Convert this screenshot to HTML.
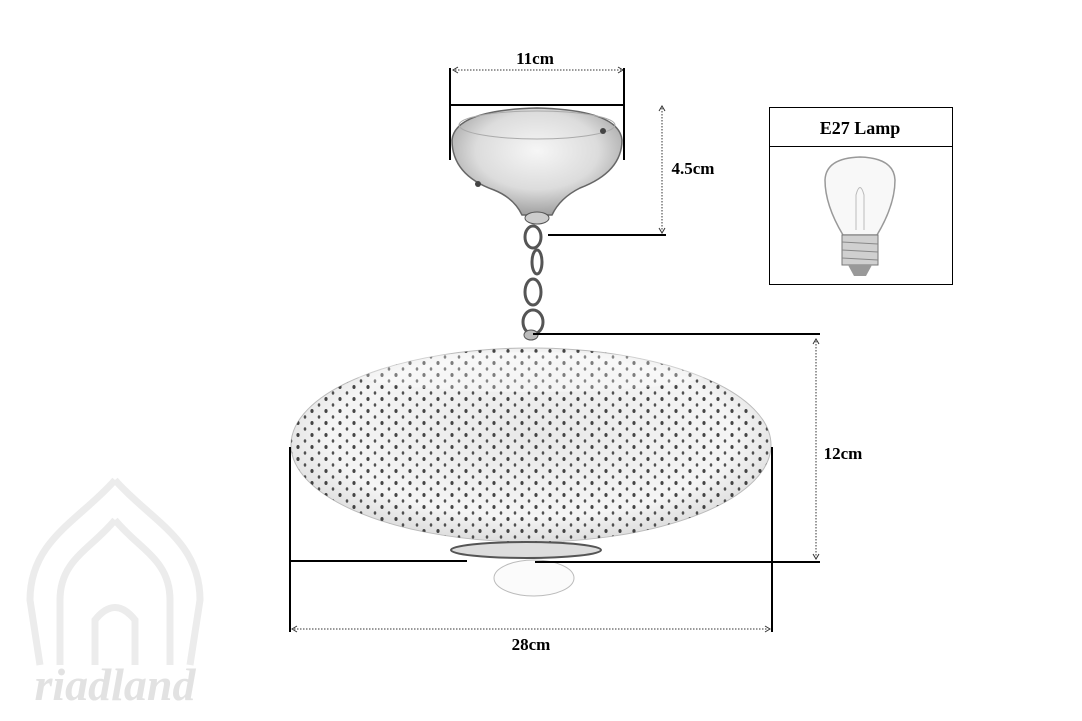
<!DOCTYPE html>
<html><head><meta charset="utf-8"><style>
html,body{margin:0;padding:0;background:#fff;}
svg{display:block}
text{font-family:"Liberation Serif",serif;font-weight:bold;}
</style></head><body>
<svg width="1082" height="721" viewBox="0 0 1082 721" xmlns="http://www.w3.org/2000/svg">
<defs>
<pattern id="dots" width="14" height="12" patternUnits="userSpaceOnUse">
<ellipse cx="4" cy="3" rx="1.6" ry="2" fill="#1a1a1a"/>
<ellipse cx="11" cy="9" rx="1.3" ry="1.7" fill="#2a2a2a"/>
</pattern>
<radialGradient id="shade" cx="50%" cy="45%" r="60%">
<stop offset="0" stop-color="#e8e8e8"/><stop offset="0.7" stop-color="#f5f5f5"/><stop offset="1" stop-color="#d5d5d5"/>
</radialGradient>
<radialGradient id="can" cx="50%" cy="40%" r="60%">
<stop offset="0" stop-color="#f6f6f6"/><stop offset="0.6" stop-color="#dcdcdc"/><stop offset="1" stop-color="#a0a0a0"/>
</radialGradient>
<clipPath id="sc"><ellipse cx="531" cy="445" rx="240" ry="97"/></clipPath>
</defs>

<!-- watermark -->
<g fill="none" stroke="#ececec" stroke-width="7">
<path d="M115 480 C80 520 30 540 30 600 L40 665 M115 480 C150 520 200 540 200 600 L190 665"/>
<path d="M115 520 C90 550 60 560 60 600 L60 665 M115 520 C140 550 170 560 170 600 L170 665"/>
<path d="M95 665 L95 620 Q115 595 135 620 L135 665"/>
</g>
<text x="115" y="700" text-anchor="middle" font-size="46" font-style="italic" font-weight="normal" fill="#e2e2e2">riadland</text>

<!-- 11cm -->
<text x="535" y="64" text-anchor="middle" font-size="17">11cm</text>
<line x1="455" y1="70" x2="621" y2="70" stroke="#333" stroke-dasharray="1.5 1.5"/>
<path d="M458 67 L453 70 L458 73 M618 67 L623 70 L618 73" fill="none" stroke="#333"/>
<line x1="450" y1="68" x2="450" y2="160" stroke="#000" stroke-width="2"/>
<line x1="624" y1="68" x2="624" y2="160" stroke="#000" stroke-width="2"/>
<line x1="450" y1="105" x2="624" y2="105" stroke="#000" stroke-width="2"/>

<!-- canopy -->
<path d="M452 140 Q455 110 537 108 Q619 110 622 140 Q622 172 580 188 Q560 198 552 215 L522 215 Q514 198 494 190 Q452 175 452 140 Z" fill="url(#can)" stroke="#666" stroke-width="1.5"/>
<ellipse cx="537" cy="125" rx="78" ry="14" fill="none" stroke="#aaa"/>
<circle cx="603" cy="131" r="3" fill="#444"/><circle cx="478" cy="184" r="3" fill="#444"/>
<ellipse cx="537" cy="218" rx="12" ry="6" fill="#ccc" stroke="#555"/>

<!-- chain -->
<g fill="none" stroke="#555" stroke-width="3">
<ellipse cx="533" cy="237" rx="8" ry="11"/>
<ellipse cx="537" cy="262" rx="5" ry="12"/>
<ellipse cx="533" cy="292" rx="8" ry="13"/>
<ellipse cx="533" cy="322" rx="10" ry="12"/>
</g>

<!-- 4.5cm -->
<line x1="548" y1="235" x2="666" y2="235" stroke="#000" stroke-width="2"/>
<line x1="662" y1="108" x2="662" y2="231" stroke="#333" stroke-dasharray="1.5 1.5"/>
<path d="M659 111 L662 106 L665 111 M659 228 L662 233 L665 228" fill="none" stroke="#333"/>
<text x="693" y="174" text-anchor="middle" font-size="17">4.5cm</text>

<!-- lamp box -->
<rect x="769.5" y="107.5" width="183" height="177" fill="#fff" stroke="#000"/>
<line x1="769" y1="146.5" x2="952" y2="146.5" stroke="#000"/>
<text x="860" y="134" text-anchor="middle" font-size="18">E27 Lamp</text>
<path d="M843 235 Q825 205 825 180 Q826 158 860 157 Q894 158 895 180 Q895 205 877 235 Z" fill="#f8f8f8" stroke="#999" stroke-width="1.5"/>
<path d="M856 230 L856 195 Q860 180 864 195 L864 230" fill="none" stroke="#bbb"/>
<rect x="842" y="235" width="36" height="30" fill="#d0d0d0" stroke="#777"/>
<g stroke="#888"><line x1="842" y1="242" x2="878" y2="244"/><line x1="842" y1="250" x2="878" y2="252"/><line x1="842" y1="258" x2="878" y2="260"/></g>
<path d="M848 265 L872 265 L866 276 L854 276 Z" fill="#999"/>

<!-- shade -->
<ellipse cx="531" cy="445" rx="240" ry="97" fill="url(#shade)" stroke="#bbb"/>
<rect x="290" y="345" width="482" height="200" fill="url(#dots)" clip-path="url(#sc)" opacity="0.8"/>
<ellipse cx="531" cy="372" rx="180" ry="20" fill="#fff" opacity="0.3"/>
<ellipse cx="531" cy="335" rx="7" ry="5" fill="#bbb" stroke="#555"/>

<!-- bottom ring & bulb -->
<ellipse cx="534" cy="578" rx="40" ry="18" fill="#fbfbfb" stroke="#bbb"/>
<ellipse cx="526" cy="550" rx="75" ry="8" fill="#ddd" stroke="#555" stroke-width="2"/>

<!-- 12cm -->
<line x1="533" y1="334" x2="820" y2="334" stroke="#000" stroke-width="2"/>
<line x1="816" y1="341" x2="816" y2="557" stroke="#333" stroke-dasharray="1.5 1.5"/>
<path d="M813 344 L816 339 L819 344 M813 554 L816 559 L819 554" fill="none" stroke="#333"/>
<text x="843" y="459" text-anchor="middle" font-size="17">12cm</text>
<line x1="290" y1="561" x2="467" y2="561" stroke="#000" stroke-width="2"/>
<line x1="535" y1="562" x2="820" y2="562" stroke="#000" stroke-width="2"/>

<!-- 28cm -->
<line x1="290" y1="447" x2="290" y2="632" stroke="#000" stroke-width="2"/>
<line x1="772" y1="447" x2="772" y2="632" stroke="#000" stroke-width="2"/>
<line x1="294" y1="629" x2="768" y2="629" stroke="#333" stroke-dasharray="1.5 1.5"/>
<path d="M297 626 L292 629 L297 632 M765 626 L770 629 L765 632" fill="none" stroke="#333"/>
<text x="531" y="650" text-anchor="middle" font-size="17">28cm</text>
</svg>
</body></html>
